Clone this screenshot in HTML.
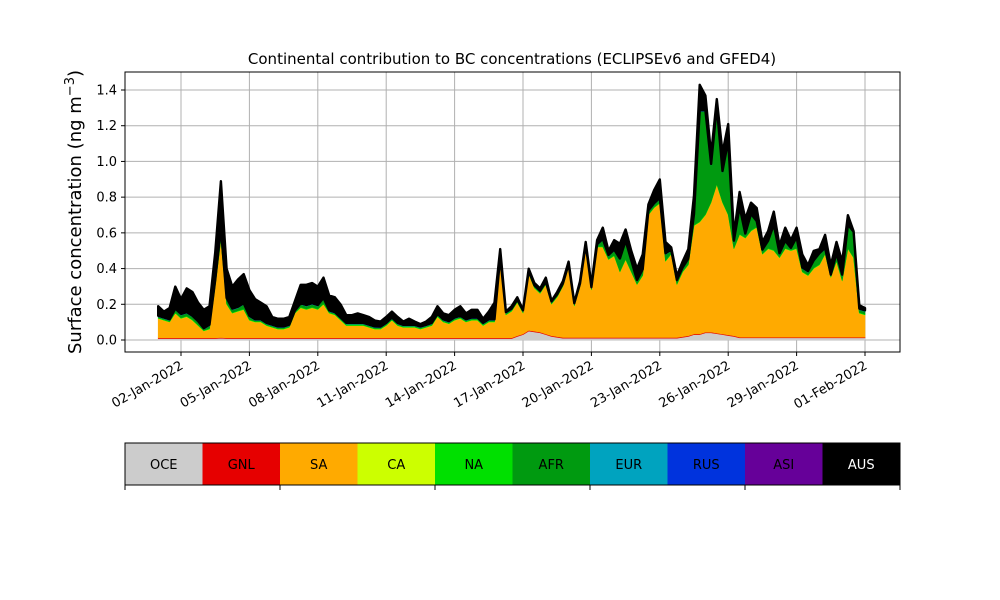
<!DOCTYPE html>
<html><head><meta charset="utf-8"><style>
html,body{margin:0;padding:0;background:#fff;width:1000px;height:600px;overflow:hidden}
svg text{font-family:"DejaVu Sans","Liberation Sans",sans-serif;fill:#000}
</style></head><body>
<svg id="chart" width="1000" height="600" viewBox="0 0 1000 600" xmlns="http://www.w3.org/2000/svg">
<text x="512" y="64" font-size="15" text-anchor="middle">Continental contribution to BC concentrations (ECLIPSEv6 and GFED4)</text>
<g id="grid"></g>
<g id="areas"></g>
<g id="axes"></g>
<text transform="translate(81,212) rotate(-90)" font-size="18" text-anchor="middle">Surface concentration (ng m<tspan dy="-7" font-size="13">−3</tspan><tspan dy="7">)</tspan></text>
<g id="legend"></g>
</svg>
<script>
const seriesNames=["OCE","GNL","SA","CA","NA","AFR","EUR","RUS","ASI","AUS"];
const seriesColors=["#cccccc","#e60000","#ffaa00","#ccff00","#00e000","#009a10","#00a3bf","#0033dd","#660099","#000000"];
const tickLabels=["02-Jan-2022","05-Jan-2022","08-Jan-2022","11-Jan-2022","14-Jan-2022","17-Jan-2022","20-Jan-2022","23-Jan-2022","26-Jan-2022","29-Jan-2022","01-Feb-2022"];
const tickDays=[1,4,7,10,13,16,19,22,25,28,31];
const yTicks=[0,0.2,0.4,0.6,0.8,1.0,1.2,1.4];
const startDay=0, stepDays=0.25;
const oce=[.008,.008,.008,.008,.008,.008,.008,.008,.008,.008,.008,.01,.008,.008,.008,.008,.008,.008,.008,.008,.008,.008,.008,.008,.008,.008,.008,.008,.008,.008,.008,.008,.008,.008,.008,.008,.008,.008,.008,.008,.008,.008,.008,.008,.008,.008,.008,.008,.008,.008,.008,.008,.008,.008,.008,.008,.008,.008,.008,.008,.008,.008,.008,.02,.03,.05,.045,.04,.03,.02,.015,.01,.01,.01,.01,.01,.01,.01,.01,.01,.01,.01,.01,.01,.01,.01,.01,.01,.01,.01,.01,.01,.015,.02,.03,.03,.04,.04,.035,.03,.025,.02,.012,.012,.012,.012,.012,.012,.012,.012,.012,.012,.012,.012,.012,.012,.012,.012,.012,.012,.012,.012,.012,.012,.012];
const gnl=[.004,.004,.004,.004,.004,.004,.004,.004,.004,.004,.004,.004,.004,.004,.004,.004,.004,.004,.004,.004,.004,.004,.004,.004,.004,.004,.004,.004,.004,.004,.004,.004,.004,.004,.004,.004,.004,.004,.004,.004,.004,.004,.004,.004,.004,.004,.004,.004,.004,.004,.004,.004,.004,.004,.004,.004,.004,.004,.004,.004,.004,.004,.004,.004,.004,.004,.004,.004,.004,.004,.004,.004,.004,.004,.004,.004,.004,.004,.004,.004,.004,.004,.004,.004,.004,.004,.004,.004,.004,.004,.004,.004,.004,.004,.004,.004,.004,.004,.004,.004,.004,.004,.004,.004,.004,.004,.004,.004,.004,.004,.004,.004,.004,.004,.004,.004,.004,.004,.004,.004,.004,.004,.004,.004,.004];
const sa=[.108,.098,.088,.138,.108,.118,.098,.068,.038,.048,.288,.546,.188,.138,.148,.158,.098,.088,.088,.068,.058,.048,.048,.058,.138,.168,.158,.168,.158,.188,.138,.128,.098,.068,.068,.068,.068,.058,.048,.048,.068,.098,.068,.058,.058,.058,.048,.058,.068,.118,.088,.078,.098,.108,.088,.098,.098,.068,.088,.088,.438,.128,.148,.186,.116,.316,.241,.216,.276,.176,.221,.286,.396,.176,.286,.506,.266,.506,.506,.436,.456,.366,.436,.366,.296,.346,.686,.726,.751,.426,.466,.296,.361,.396,.606,.626,.656,.726,.831,.736,.671,.486,.574,.554,.594,.614,.464,.494,.484,.444,.494,.484,.494,.364,.344,.384,.404,.464,.334,.424,.314,.494,.444,.134,.124];
const ca=[.001,.001,.001,.001,.001,.001,.001,.001,.001,.001,.001,.001,.001,.001,.001,.001,.001,.001,.001,.001,.001,.001,.001,.001,.001,.001,.001,.001,.001,.001,.001,.001,.001,.001,.001,.001,.001,.001,.001,.001,.001,.001,.001,.001,.001,.001,.001,.001,.001,.001,.001,.001,.001,.001,.001,.001,.001,.001,.001,.001,.001,.001,.001,.001,.001,.001,.001,.001,.001,.001,.001,.001,.001,.001,.001,.001,.001,.001,.001,.001,.001,.001,.001,.001,.001,.001,.001,.001,.001,.001,.001,.001,.001,.001,.001,.001,.001,.001,.001,.001,.001,.001,.001,.001,.001,.001,.001,.001,.001,.001,.001,.001,.001,.001,.001,.001,.001,.001,.001,.001,.001,.001,.001,.001,.001];
const na=[.004,.004,.004,.004,.004,.004,.004,.004,.004,.004,.004,.004,.004,.004,.004,.004,.004,.004,.004,.004,.004,.004,.004,.004,.004,.004,.004,.004,.004,.004,.004,.004,.004,.004,.004,.004,.004,.004,.004,.004,.004,.004,.004,.004,.004,.004,.004,.004,.004,.004,.004,.004,.004,.004,.004,.004,.004,.004,.004,.004,.004,.004,.004,.004,.004,.004,.004,.004,.004,.004,.004,.004,.004,.004,.004,.004,.004,.004,.004,.004,.004,.004,.004,.004,.004,.004,.004,.004,.004,.004,.004,.004,.004,.004,.004,.004,.004,.004,.004,.004,.004,.004,.004,.004,.004,.004,.004,.004,.004,.004,.004,.004,.004,.004,.004,.004,.004,.004,.004,.004,.004,.004,.004,.004,.004];
const afr=[.004,.004,.004,.014,.014,.014,.014,.014,.004,.014,.024,.054,.024,.014,.014,.024,.014,.004,.004,.004,.004,.004,.004,.004,.004,.014,.014,.014,.014,.024,.004,.004,.004,.004,.004,.004,.004,.004,.004,.003,.004,.004,.004,.003,.004,.003,.004,.003,.004,.004,.004,.004,.004,.004,.004,.004,.004,.004,.004,.004,.004,.004,.004,.004,.004,.004,.004,.004,.004,.004,.004,.004,.004,.004,.004,.004,.004,.004,.034,.014,.024,.064,.094,.054,.014,.024,.014,.014,.019,.034,.014,.014,.014,.024,.054,.614,.574,.204,.424,.164,.404,.034,.144,.014,.084,.024,.014,.034,.134,.014,.034,.004,.054,.014,.014,.034,.054,.024,.004,.034,.024,.124,.134,.014,.014];
const eur=[.002,.002,.002,.002,.002,.002,.002,.002,.002,.002,.002,.002,.002,.002,.002,.002,.002,.002,.002,.002,.002,.002,.002,.002,.002,.002,.002,.002,.002,.002,.002,.002,.002,.002,.002,.002,.002,.002,.002,.002,.002,.002,.002,.002,.002,.002,.002,.002,.002,.002,.002,.002,.002,.002,.002,.002,.002,.002,.002,.002,.002,.002,.002,.002,.002,.002,.002,.002,.002,.002,.002,.002,.002,.002,.002,.002,.002,.002,.002,.002,.002,.002,.002,.002,.002,.002,.002,.002,.002,.002,.002,.002,.002,.002,.002,.002,.002,.002,.002,.002,.002,.002,.002,.002,.002,.002,.002,.002,.002,.002,.002,.002,.002,.002,.002,.002,.002,.002,.002,.002,.002,.002,.002,.002,.002];
const rus=[.001,.001,.001,.001,.001,.001,.001,.001,.001,.001,.001,.001,.001,.001,.001,.001,.001,.001,.001,.001,.001,.001,.001,.001,.001,.001,.001,.001,.001,.001,.001,.001,.001,.001,.001,.001,.001,.001,.001,.001,.001,.001,.001,.001,.001,.001,.001,.001,.001,.001,.001,.001,.001,.001,.001,.001,.001,.001,.001,.001,.001,.001,.001,.001,.001,.001,.001,.001,.001,.001,.001,.001,.001,.001,.001,.001,.001,.001,.001,.001,.001,.001,.001,.001,.001,.001,.001,.001,.001,.001,.001,.001,.001,.001,.001,.001,.001,.001,.001,.001,.001,.001,.001,.001,.001,.001,.001,.001,.001,.001,.001,.001,.001,.001,.001,.001,.001,.001,.001,.001,.001,.001,.001,.001,.001];
const asi=[.004,.004,.004,.004,.004,.004,.004,.004,.004,.004,.004,.004,.004,.004,.004,.004,.004,.004,.004,.004,.004,.004,.004,.004,.004,.004,.004,.004,.004,.004,.004,.004,.004,.004,.004,.004,.004,.004,.004,.004,.004,.004,.004,.004,.004,.004,.004,.004,.004,.004,.004,.004,.004,.004,.004,.004,.004,.004,.004,.004,.004,.004,.004,.004,.004,.004,.004,.004,.004,.004,.004,.004,.004,.004,.004,.004,.004,.004,.004,.004,.004,.004,.004,.004,.004,.004,.004,.004,.004,.004,.004,.004,.004,.004,.004,.004,.004,.004,.004,.004,.004,.004,.004,.004,.004,.004,.004,.004,.004,.004,.004,.004,.004,.004,.004,.004,.004,.004,.004,.004,.004,.004,.004,.004,.004];
const aus=[.053,.033,.063,.123,.083,.133,.133,.103,.103,.103,.153,.263,.163,.123,.153,.163,.143,.113,.093,.093,.043,.043,.043,.043,.053,.103,.113,.113,.103,.113,.083,.083,.073,.043,.043,.053,.043,.043,.033,.028,.033,.033,.033,.018,.033,.018,.013,.018,.033,.043,.033,.033,.043,.053,.033,.043,.043,.023,.043,.093,.043,.003,.013,.013,.003,.013,.013,.013,.023,.003,.013,.013,.013,.003,.013,.013,.013,.023,.063,.023,.053,.083,.063,.053,.063,.083,.033,.073,.103,.063,.013,.023,.033,.053,.103,.143,.083,.053,.043,.103,.093,.033,.083,.083,.063,.073,.043,.053,.073,.043,.073,.043,.053,.073,.033,.053,.023,.073,.053,.063,.073,.053,.003,.019,.013];
const seriesData=[oce,gnl,sa,ca,na,afr,eur,rus,asi,aus];

const NS="http://www.w3.org/2000/svg";
const L=125,R=900,T=72,B=352;
const xScale=d=>158.2+22.8*(d-0);
const yScale=v=>340-v*178.57;
function mk(tag,attrs,parent){const e=document.createElementNS(NS,tag);for(const k in attrs)e.setAttribute(k,attrs[k]);parent.appendChild(e);return e;}
const grid=document.getElementById('grid'),areas=document.getElementById('areas'),axes=document.getElementById('axes'),legend=document.getElementById('legend');
mk('rect',{x:L,y:T,width:R-L,height:B-T,fill:'#fff'},grid);
tickDays.forEach((d,i)=>{
  const x=xScale(d);
  const gl=mk('line',{x1:x,x2:x,y1:T,y2:B,stroke:'#b0b0b0','stroke-width':1},grid);
  
  
  const tk=mk('line',{x1:x,x2:x,y1:B,y2:B+4,stroke:'#000'},axes);
  
  
  const t=mk('text',{transform:`translate(${x+3},${B+16}) rotate(-30)`,'font-size':13,'text-anchor':'end'},axes);
  t.textContent=tickLabels[i];
  
  
});
yTicks.forEach(v=>{
  const y=yScale(v);
  const gl=mk('line',{x1:L,x2:R,y1:y,y2:y,stroke:'#b0b0b0','stroke-width':1},grid);
  
  
  const tk=mk('line',{x1:L-4,x2:L,y1:y,y2:y,stroke:'#000'},axes);
  
  
  const t=mk('text',{x:L-8,y:y+4.5,'font-size':13,'text-anchor':'end'},axes);
  t.textContent=v.toFixed(1);
  
  
});
const n=oce.length;
let base=new Array(n).fill(0);
seriesData.forEach((s,k)=>{
  const top=base.map((b,i)=>b+s[i]);
  let d='';
  for(let i=0;i<n;i++){d+=(i?'L':'M')+xScale(startDay+i*stepDays).toFixed(2)+','+yScale(top[i]).toFixed(2);}
  for(let i=n-1;i>=0;i--){d+='L'+xScale(startDay+i*stepDays).toFixed(2)+','+yScale(base[i]).toFixed(2);}
  d+='Z';
  const p=mk('path',{d:d,fill:seriesColors[k],stroke:seriesColors[k],'stroke-width':k===9?2.4:0.6,'stroke-linejoin':'round'},areas);
  
  
  base=top;
});
mk('rect',{x:L,y:T,width:R-L,height:B-T,fill:'none',stroke:'#000','stroke-width':1},axes);
const cw=(R-L)/seriesNames.length;
seriesNames.forEach((nm,k)=>{
  const r=mk('rect',{x:L+k*cw,y:443,width:cw+0.5,height:42,fill:seriesColors[k]},legend);
  
  
  const t=mk('text',{x:L+k*cw+cw/2,y:469,'font-size':13,'text-anchor':'middle'},legend);
  t.textContent=nm;
  if(nm==='AUS') t.style.fill='#ffffff';
  
  
});
mk('rect',{x:L,y:443,width:R-L,height:42,fill:'none',stroke:'#000','stroke-width':1},legend);
for(let k=0;k<=5;k++){
  const tk=mk('line',{x1:L+k*2*cw,x2:L+k*2*cw,y1:485,y2:490,stroke:'#000'},legend);
  
  
}
</script>
</body></html>
